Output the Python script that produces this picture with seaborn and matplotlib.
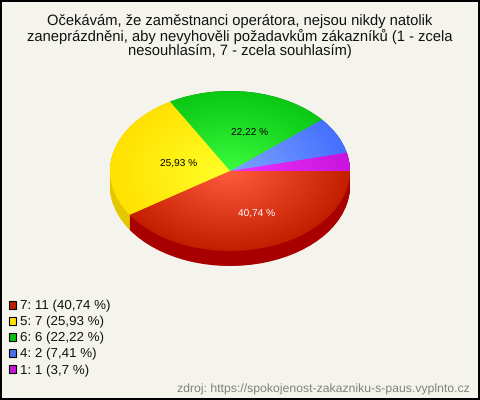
import matplotlib
matplotlib.use("Agg")
import matplotlib.pyplot as plt
import numpy as np
import seaborn as sns
from matplotlib.patches import Rectangle

title = ("Očekávám, že zaměstnanci operátora, nejsou nikdy natolik\n"
         "zaneprázdněni, aby nevyhověli požadavkům zákazníků (1 - zcela\n"
         "nesouhlasím, 7 - zcela souhlasím)")
source = "zdroj: https://spokojenost-zakazniku-s-paus.vyplnto.cz"

# slices, counter-clockwise from 3 o'clock
answers = ["1", "4", "6", "5", "7"]
counts = [1, 2, 6, 7, 11]
percent_labels = ["3,7", "7,41", "22,22", "25,93", "40,74"]

inner_colors = ["#F032FF", "#7CA4FF", "#3CFA3C", "#FFFF28", "#FF5A3C"]
outer_colors = ["#C814DC", "#4670FF", "#0AC814", "#FFE100", "#C31E00"]
side_colors = ["#A010B0", "#3050C0", "#088010", "#E3C800", "#A80000"]
legend_colors = ["#C814DC", "#4670F0", "#0ABE14", "#FFE100", "#BE1E00"]

BG = "#F5F4EC"
W, H = 480, 400
CX, CY, RX, RY, DEPTH = 230, 171, 120, 80, 15

sns.set_theme(style="white")
plt.rcParams["font.family"] = ["Liberation Sans", "DejaVu Sans"]
plt.rcParams["text.hinting"] = "no_hinting"

fig = plt.figure(figsize=(W / 100, H / 100), dpi=100, facecolor=BG, edgecolor="black", linewidth=1.5)
ax = fig.add_axes([0, 0, 1, 1])
flat = {"linewidth": 0, "edgecolor": "none"}

# side of the disc
for dy in np.linspace(DEPTH / RY, 0, 31):
    ax.pie(counts, colors=side_colors, startangle=0, center=(0, -dy), radius=1, frame=True, wedgeprops=flat)

# top surface: concentric pies give the radial gradient
ramps = [sns.blend_palette([o, i], 50) for o, i in zip(outer_colors, inner_colors)]
for k, r in enumerate(np.linspace(1, 0.02, 50)):
    ax.pie(counts, colors=[ramp[k] for ramp in ramps], startangle=0, radius=r, frame=True, wedgeprops=flat)


def pct_text(p):
    return f"{p:.2f} %".replace(".", ",") if p > 10 else ""


_, _, autotexts = ax.pie(counts, colors=["none"] * 5, startangle=0, radius=1, frame=True,
                         autopct=pct_text, pctdistance=0.52, wedgeprops=flat,
                         textprops={"fontsize": 7.3})
autotexts[-1].set_color("white")
for t in autotexts[:-1]:
    t.set_color("black")
# labels sit a little right of and below the slice middle
for t in autotexts:
    x, y = t.get_position()
    t.set_position((x + 9 / RX, y - 3 / RY))

ax.set_aspect("auto")
ax.set_xlim(-CX / RX, (W - CX) / RX)
ax.set_ylim((CY - H) / RY, CY / RY)
ax.set_xticks([])
ax.set_yticks([])
ax.axis("off")

fig.text(0.5, 1 - 14 / H, title, ha="center", va="top", fontsize=10.65, color="#111111", linespacing=1.02)

# legend, largest slice first
handles = [Rectangle((0, 0), 1, 1, facecolor=c, edgecolor="black", linewidth=0.8) for c in legend_colors[::-1]]
labels = [f"{a}: {n} ({p} %)" for a, n, p in zip(answers[::-1], counts[::-1], percent_labels[::-1])]
fig.legend(handles, labels, loc="upper left", bbox_to_anchor=(9 / W, 1 - 300 / H), frameon=False,
           fontsize=9.6, handlelength=0.55, handleheight=0.55, handletextpad=0.25, labelspacing=0.3,
           borderpad=0, borderaxespad=0, labelcolor="#111111")

fig.text(1 - 10 / W, 1 - 393 / H, source, ha="right", va="baseline", fontsize=8.8, color="#808080")

fig.savefig("out.png", dpi=100)
